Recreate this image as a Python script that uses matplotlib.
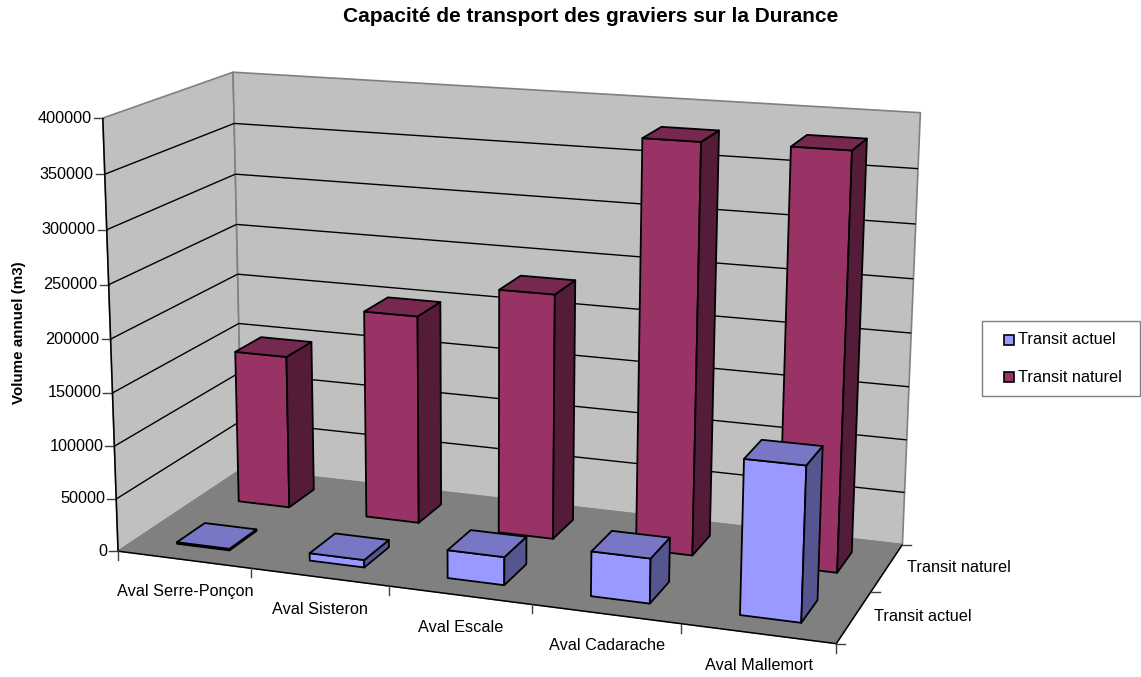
import numpy as np
import matplotlib
matplotlib.use("Agg")
import matplotlib.pyplot as plt
from matplotlib.patches import Polygon, Rectangle

plt.rcParams['font.family'] = ['Liberation Sans', 'DejaVu Sans']

# data
categories = ["Aval Serre-Ponçon", "Aval Sisteron", "Aval Escale", "Aval Cadarache", "Aval Mallemort"]
series_names = ["Transit actuel", "Transit naturel"]
transit_actuel = [1500, 7000, 26000, 41000, 139000]
transit_naturel = [149000, 200000, 232000, 380000, 381000]
z_ticks = [0, 50000, 100000, 150000, 200000, 250000, 300000, 350000, 400000]
z_max = 400000

# pixel position of the box corners, used to fit the camera of the 3D view
box_pts = [(0, 0, 0), (5, 0, 0), (0, 2, 0), (5, 2, 0), (0, 0, 1), (0, 2, 1), (5, 2, 1)]
box_px = [(120, 550), (836, 645), (240, 470), (903, 543), (101, 118), (235, 72), (920, 113)]


def fit_camera(pts, px):
    rows = []
    for (x, y, z), (u, v) in zip(pts, px):
        rows.append([x, y, z, 1, 0, 0, 0, 0, -u * x, -u * y, -u * z, -u])
        rows.append([0, 0, 0, 0, x, y, z, 1, -v * x, -v * y, -v * z, -v])
    return np.linalg.svd(np.array(rows, dtype=float))[2][-1].reshape(3, 4)


cam = fit_camera(box_pts, box_px)


def proj(x, y, value):
    p = cam @ np.array([x, y, value / z_max, 1.0])
    return p[0] / p[2], p[1] / p[2]


fig = plt.figure(figsize=(11.41, 6.77), dpi=100)
ax = fig.add_axes([0, 0, 1, 1])
ax.set_xlim(0, 1141)
ax.set_ylim(677, 0)
ax.axis("off")


def face(pts, color, edge="black", lw=1.3, z=1):
    ax.add_patch(Polygon([proj(*p) for p in pts], closed=True, facecolor=color,
                         edgecolor=edge, linewidth=lw, joinstyle="round", zorder=z))


def seg(a, b, color="black", lw=1.0, z=2):
    pa, pb = proj(*a), proj(*b)
    ax.plot([pa[0], pb[0]], [pa[1], pb[1]], color=color, lw=lw, zorder=z, solid_capstyle="butt")


# walls and floor
n = len(categories)
face([(0, 0, 0), (0, 2, 0), (0, 2, z_max), (0, 0, z_max)], "#C0C0C0", "#808080", 1.2)
face([(0, 2, 0), (n, 2, 0), (n, 2, z_max), (0, 2, z_max)], "#C0C0C0", "#808080", 1.2)
face([(0, 0, 0), (n, 0, 0), (n, 2, 0), (0, 2, 0)], "#808080", "#808080", 0.8)

# gridlines and value axis
for v in z_ticks:
    if 0 < v < z_max:
        seg((0, 0, v), (0, 2, v))
        seg((0, 2, v), (n, 2, v))
    u0, v0 = proj(0, 0, v)
    ax.plot([u0 - 9, u0], [v0, v0], color="#404040", lw=1.0, zorder=2)
    ax.text(u0 - 11, v0, str(v), ha="right", va="center", fontsize=11.7, color="black")
seg((0, 0, 0), (0, 0, z_max), lw=1.1)
seg((0, 0, 0), (n, 0, 0), lw=1.1)
seg((n, 0, 0), (n, 2, 0), lw=1.1)

# category ticks and labels
for i in range(n + 1):
    u0, v0 = proj(i, 0, 0)
    ax.plot([u0, u0], [v0, v0 + 9], color="#404040", lw=1.0, zorder=2)
for i, name in enumerate(categories):
    u0, v0 = proj(i + 0.5, 0, 0)
    ax.text(u0 + 1, v0 + 32, name, ha="center", va="center", fontsize=11.7)

# depth ticks and labels
for j in range(3):
    u0, v0 = proj(n, j, 0)
    ax.plot([u0, u0 + 9], [v0, v0], color="#404040", lw=1.0, zorder=2)
for j, name in enumerate(series_names):
    u0, v0 = proj(n, j + 0.5, 0)
    ax.text(u0 + 20, v0, name, ha="left", va="center", fontsize=11.7)

# bars, back row first
bar_half = 0.2
depth_half = 0.22
styles = [("#9999FF", "#7777C6", "#55558F"), ("#993366", "#772850", "#551C39")]
rows = [transit_actuel, transit_naturel]
for j in [1, 0]:
    front, top, side = styles[j]
    for i in range(n):
        x0, x1 = i + 0.51 - bar_half, i + 0.51 + bar_half
        y0, y1 = j + 0.5 - depth_half, j + 0.5 + depth_half
        h = rows[j][i]
        z = 5 + (1 - j) * 10 + i
        face([(x0, y0, 0), (x1, y0, 0), (x1, y0, h), (x0, y0, h)], front, z=z)
        face([(x1, y0, 0), (x1, y1, 0), (x1, y1, h), (x1, y0, h)], side, z=z)
        face([(x0, y0, h), (x1, y0, h), (x1, y1, h), (x0, y1, h)], top, z=z)

ax.text(591, 16, "Capacité de transport des graviers sur la Durance", ha="center", va="center",
        fontsize=15, fontweight="bold")
ax.text(19, 333, "Volume annuel (m3)", ha="center", va="center", rotation=90,
        fontsize=10.9, fontweight="bold")

# legend box
ax.add_patch(Rectangle((982, 321), 158, 75, facecolor="white", edgecolor="#808080", lw=1.0, zorder=2))
for k, name in enumerate(series_names):
    yk = 340 + 37 * k
    ax.add_patch(Rectangle((1004, yk - 5), 10, 10, facecolor=styles[k][0], edgecolor="black", lw=1.2, zorder=3))
    ax.text(1018, yk, name, ha="left", va="center", fontsize=11.7, zorder=3)

fig.savefig("out.png", dpi=100)
